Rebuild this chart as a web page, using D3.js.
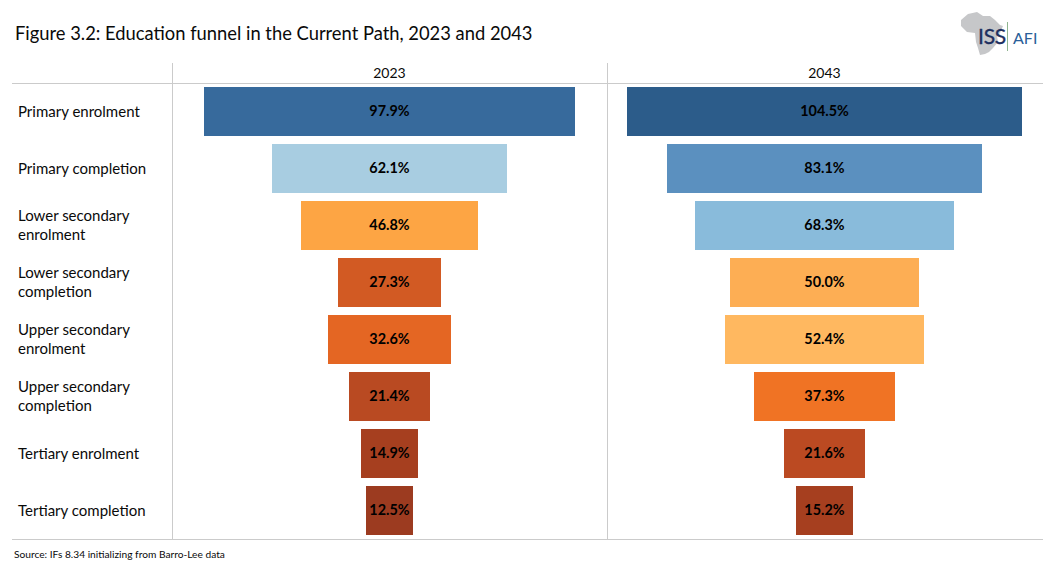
<!DOCTYPE html>
<html><head><meta charset="utf-8">
<script src="https://cdn.jsdelivr.net/npm/d3@7/dist/d3.min.js"></script>
<style>html,body{margin:0;padding:0;background:#fff}svg{display:block}text{font-family:Lato,"Open Sans",sans-serif;fill:#0a0a0a}</style>
</head><body><svg id="c" width="1055" height="584"></svg>
<script>
const categories=[["Primary enrolment"],["Primary completion"],["Lower secondary","enrolment"],["Lower secondary","completion"],["Upper secondary","enrolment"],["Upper secondary","completion"],["Tertiary enrolment"],["Tertiary completion"]];
const years=["2023","2043"];
const values2023=[97.9,62.1,46.8,27.3,32.6,21.4,14.9,12.5];
const values2043=[104.5,83.1,68.3,50.0,52.4,37.3,21.6,15.2];
const colors2023=["#376A9C","#A8CDE1","#FDA544","#D25A23","#E46623","#B94A22","#A63F1F","#9C3B20"];
const colors2043=["#2C5C8A","#5B90BF","#89BBDB","#FDAE54","#FFB860","#F07324","#BB4A22","#A63F1F"];
const svg=d3.select("#c");
const y=d3.scaleBand().domain(d3.range(8)).range([87,535]).paddingInner(8/57);
const w=d3.scaleLinear().domain([0,104.5]).range([0,395]);
const panels=[{c:389.5,v:values2023,col:colors2023,y:years[0]},{c:824.5,v:values2043,col:colors2043,y:years[1]}];
const grey="#cbcbcb";
const line=(x1,y1,x2,y2)=>svg.append("line").attr("x1",x1).attr("y1",y1).attr("x2",x2).attr("y2",y2).attr("stroke",grey).attr("stroke-width",1);
line(12,83.5,1043,83.5);line(12,539.5,1043,539.5);line(172.5,63,172.5,540);line(607.5,63,607.5,540);
svg.append("text").attr("x",15).attr("y",39.5).attr("font-size",18.35).text("Figure 3.2: Education funnel in the Current Path, 2023 and 2043");
svg.append("text").attr("x",14).attr("y",558).attr("font-size",10.2).text("Source: IFs 8.34 initializing from Barro-Lee data");
categories.forEach((lines,i)=>{
  const cy=y(i)+y.bandwidth()/2;
  lines.forEach((t,j)=>{
    const off=lines.length>1?4.5:5.5;
    svg.append("text").attr("x",18).attr("y",cy+off+(j-(lines.length-1)/2)*19).attr("font-size",15).text(t);
  });
});
panels.forEach(p=>{
  svg.append("text").attr("x",p.c).attr("y",78).attr("text-anchor","middle").attr("font-size",14).text(p.y);
  const g=svg.append("g");
  g.selectAll("rect").data(p.v).join("rect")
    .attr("x",d=>p.c-w(d)/2).attr("y",(d,i)=>y(i)).attr("width",d=>w(d)).attr("height",y.bandwidth())
    .attr("fill",(d,i)=>p.col[i]).attr("shape-rendering","crispEdges");
  g.selectAll("text").data(p.v).join("text")
    .attr("x",p.c).attr("y",(d,i)=>y(i)+y.bandwidth()/2+4.7)
    .attr("text-anchor","middle").attr("font-size",14.4).attr("font-weight",700).style("fill","#000")
    .text(d=>d.toFixed(1)+"%");
});
// logo
const lg=svg.append("g");
lg.append("path").attr("fill","#c6c7c9").attr("d","M968 14 L977 12 L983 16 L990 16 L995 20 L1000 25 L1003 26 L1000 33 L997 36 L998 42 L993 48 L989 52 L985 54 L980 55 L978 48 L976 42 L975 33 L967 32 L961 26 L961 20 Z");
lg.append("text").attr("x",978).attr("y",43.5).attr("font-size",21).attr("letter-spacing",-0.2).attr("stroke","#1d2f5f").attr("stroke-width",0.35).style("fill","#1d2f5f").text("ISS");
lg.append("line").attr("x1",1007.5).attr("x2",1007.5).attr("y1",22).attr("y2",51).attr("stroke","#8fb58f");
lg.append("text").attr("x",1013).attr("y",43.5).attr("font-size",16).style("fill","#2a6099").text("AFI");
</script></body></html>
